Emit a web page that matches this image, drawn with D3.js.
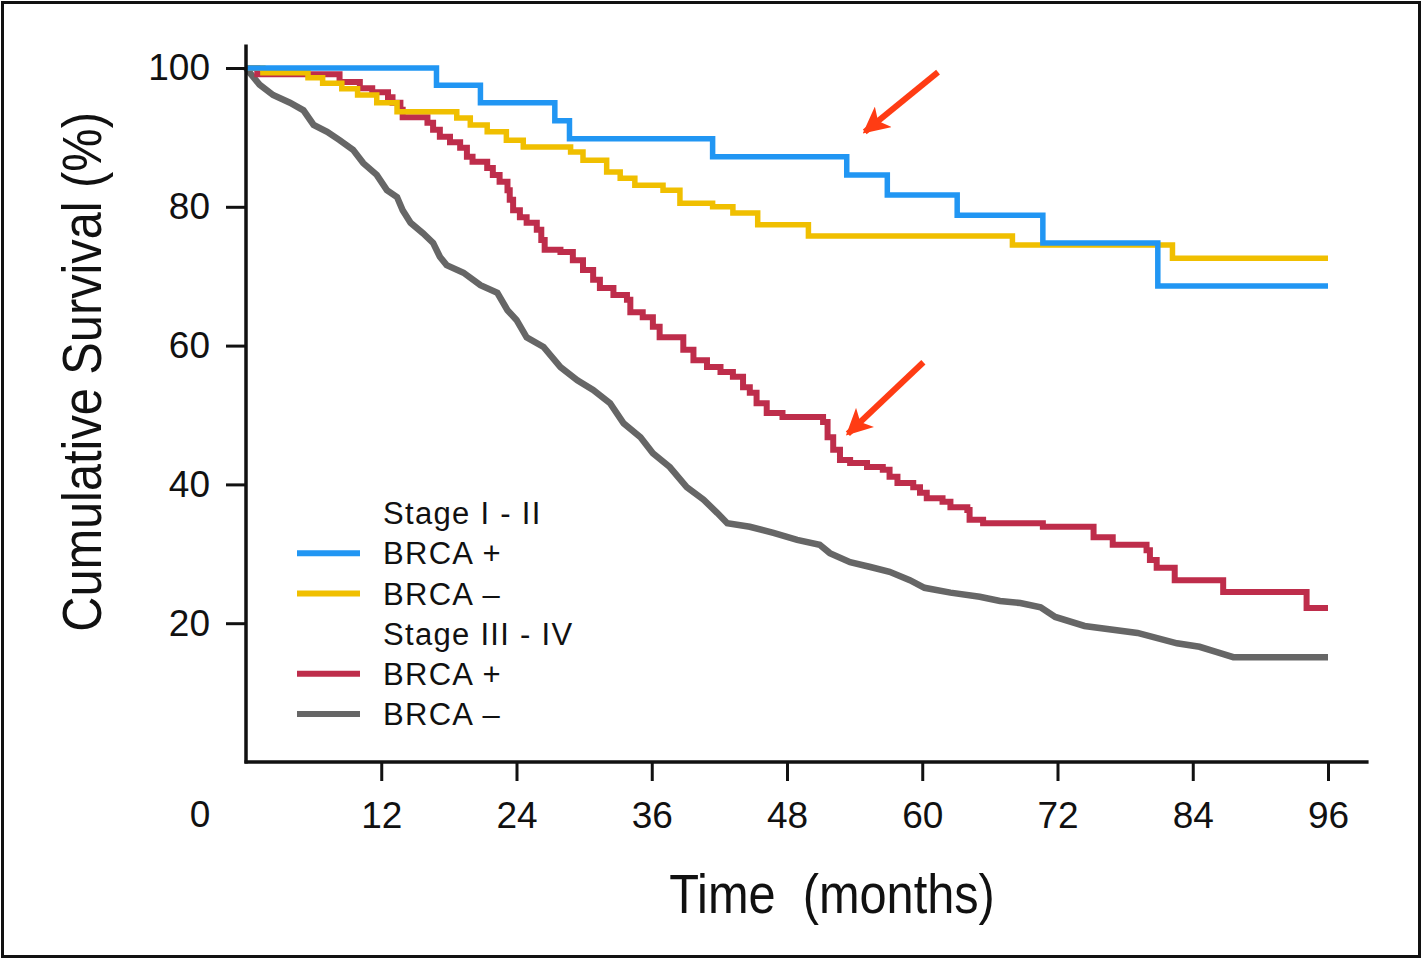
<!DOCTYPE html>
<html>
<head>
<meta charset="utf-8">
<script src="https://cdn.jsdelivr.net/npm/d3@7/dist/d3.min.js"></script>
<style>
    body { margin: 0; background: #fff; }
    svg { display: block; }
    .tick text { fill: #111; }
</style>
</head>
<body>
<div id="km-chart"></div>
<script>
// Stage I - II, BRCA +
var earlyPosTime = [0, 16.9, 20.8, 27.4, 28.7, 41.4, 53.3, 56.9, 63.1, 70.7, 80.9, 96];
var earlyPosSurv = [100, 97.5, 95.0, 92.4, 89.8, 87.2, 84.6, 81.7, 78.8, 74.8, 68.6, 68.6];

// Stage I - II, BRCA -
var earlyNegTime = [0, 1.5, 5.5, 6.8, 8.5, 9.9, 11.6, 13.4, 18.7, 19.9, 21.4, 23.1, 24.6, 28.8, 29.9, 32.0,
    33.2, 34.5, 37.0, 38.5, 41.4, 43.2, 45.4, 49.9, 68.0, 82.2, 96];
var earlyNegSurv = [100, 99.3, 98.6, 97.8, 97.0, 96.1, 95.0, 93.7, 92.8, 91.8, 90.8, 89.6, 88.6, 87.9, 86.7, 85.0,
    84.1, 83.1, 82.4, 80.5, 80.0, 79.1, 77.4, 75.8, 74.5, 72.6, 72.6];

// Stage III - IV, BRCA +
var latePosTime = [0, 1.0, 8.3, 10.1, 11.2, 12.6, 13.0, 13.7, 13.9, 16.1, 16.6, 17.2, 18.1, 19.0, 19.6, 20.1,
    21.4, 21.9, 22.5, 23.2, 23.4, 23.7, 24.3, 24.9, 25.8, 26.2, 26.5, 27.9, 29.0, 29.9, 30.8, 31.4, 32.6,
    33.8, 34.1, 35.2, 36.1, 36.7, 38.8, 39.7, 40.9, 42.1, 43.2, 44.1, 44.7, 45.3, 46.2, 47.6, 51.2, 51.6,
    52.1, 52.7, 53.6, 55.1, 56.5, 57.1, 57.8, 59.2, 59.8, 60.4, 61.8, 62.5, 64.0, 64.2, 65.4, 70.7, 75.2,
    76.9, 79.9, 80.2, 80.8, 82.4, 86.7, 94.1, 96];
var latePosSurv = [100, 99.1, 98.0, 97.1, 96.5, 95.8, 95.0, 94.0, 92.9, 92.1, 91.1, 90.1, 89.3, 88.5, 87.2, 86.5,
    85.6, 84.6, 83.6, 82.4, 81.0, 79.5, 78.5, 77.7, 76.7, 75.2, 73.8, 73.5, 72.3, 70.9, 69.5, 68.3, 67.3,
    66.6, 64.8, 64.1, 62.7, 61.2, 59.4, 57.9, 56.9, 56.2, 55.5, 54.0, 53.2, 51.7, 50.3, 49.7, 49.0, 46.8,
    45.0, 43.5, 43.1, 42.5, 42.1, 41.1, 40.2, 39.6, 38.8, 38.0, 37.5, 36.7, 36.3, 34.9, 34.4, 33.9, 32.4,
    31.3, 30.5, 29.1, 28.0, 26.2, 24.5, 22.2, 22.2];

// Stage III - IV, BRCA - (dense tiny steps)
var lateNegTime = [0, 0.35, 1.2, 2.4, 3.9, 5.1, 6.0, 7.2, 8.3, 9.5, 10.4, 11.6, 12.5, 13.4, 13.9, 14.6, 15.7,
    16.6, 17.2, 17.8, 19.3, 20.8, 22.3, 23.2, 24.0, 24.9, 26.4, 27.9, 29.4, 30.8, 32.3, 33.5, 35.0, 36.1,
    37.6, 39.1, 40.6, 41.8, 42.7, 44.7, 46.8, 48.9, 50.9, 51.8, 53.6, 55.4, 57.1, 58.9, 60.2, 62.5, 65.1,
    66.9, 68.7, 70.5, 71.8, 74.4, 79.1, 82.6, 84.6, 86.0, 87.6, 96];
var lateNegSurv = [100, 99.3, 97.6, 96.1, 95.0, 93.9, 91.8, 90.8, 89.6, 88.2, 86.3, 84.6, 82.4, 81.4, 79.5, 77.7,
    76.2, 74.8, 72.8, 71.6, 70.5, 68.7, 67.6, 65.1, 63.7, 61.2, 59.8, 56.9, 55.0, 53.6, 51.7, 48.8, 46.8,
    44.5, 42.5, 39.6, 37.8, 35.9, 34.4, 33.9, 33.0, 32.0, 31.3, 30.1, 28.8, 28.1, 27.4, 26.2, 25.1, 24.4,
    23.8, 23.2, 22.9, 22.3, 20.9, 19.6, 18.6, 17.1, 16.6, 15.9, 15.1, 15.1];

var xTickValues = [12, 24, 36, 48, 60, 72, 84, 96];
var yTickValues = [20, 40, 60, 80, 100];

var legendLabels = ["Stage I - II", "BRCA +", "BRCA \u2013", "Stage III - IV", "BRCA +", "BRCA \u2013"];

// arrows pointing at the curves, as [time, survival] tail -> head
var arrowTails = [[61.4, 99.4], [60.1, 57.6]];
var arrowHeads = [[54.9, 90.8], [53.4, 47.3]];


var width = 1422, height = 959;
var margin = {top: 68, right: 94, bottom: 197, left: 246};

var svg = d3.select("#km-chart")
    .append("svg")
    .attr("width", width)
    .attr("height", height);

svg.append("rect")
    .attr("x", 2.5)
    .attr("y", 2.5)
    .attr("width", width - 5)
    .attr("height", height - 5)
    .attr("fill", "#fff")
    .attr("stroke", "#111")
    .attr("stroke-width", 3);

var x = d3.scaleLinear()
    .domain([0, 96])
    .range([margin.left, width - margin.right]);

var y = d3.scaleLinear()
    .domain([0, 100])
    .range([height - margin.bottom, margin.top]);

var stepLine = d3.line()
    .x(function (d) { return x(d[0]); })
    .y(function (d) { return y(d[1]); })
    .curve(d3.curveStepAfter);

// the gray curve has so many tiny steps it reads as a jagged diagonal
var jaggedLine = d3.line()
    .x(function (d) { return x(d[0]); })
    .y(function (d) { return y(d[1]); })
    .curve(d3.curveLinear);

var series = [
    {time: lateNegTime, surv: lateNegSurv, color: "#666666", width: 6.5, line: jaggedLine},
    {time: latePosTime, surv: latePosSurv, color: "#be2d4b", width: 6, line: stepLine},
    {time: earlyNegTime, surv: earlyNegSurv, color: "#f0bf00", width: 5.5, line: stepLine},
    {time: earlyPosTime, surv: earlyPosSurv, color: "#2196f3", width: 5.5, line: stepLine}
];

series.forEach(function (s) {
    var pts = s.time.map(function (t, i) { return [t, s.surv[i]]; });
    svg.append("path")
        .datum(pts)
        .attr("fill", "none")
        .attr("stroke", s.color)
        .attr("stroke-width", s.width)
        .attr("stroke-linejoin", "miter")
        .attr("d", s.line);
});

// X axis
var xAxis = svg.append("g")
    .attr("transform", "translate(0," + y(0) + ")")
    .call(d3.axisBottom(x)
        .tickValues(xTickValues)
        .tickSize(19)
        .tickPadding(21));
xAxis.select(".domain").remove();
xAxis.selectAll(".tick line").attr("stroke", "#111").attr("stroke-width", 3);
xAxis.selectAll(".tick text")
    .attr("font-family", "Liberation Sans, Arial, sans-serif")
    .attr("font-size", 37);

// Y axis
var yAxis = svg.append("g")
    .attr("transform", "translate(" + x(0) + ",0)")
    .call(d3.axisLeft(y)
        .tickValues(yTickValues)
        .tickSize(20)
        .tickPadding(16));
yAxis.select(".domain").remove();
yAxis.selectAll(".tick line").attr("stroke", "#111").attr("stroke-width", 3);
yAxis.selectAll(".tick text")
    .attr("font-family", "Liberation Sans, Arial, sans-serif")
    .attr("font-size", 37);

// shared origin label
svg.append("text")
    .attr("x", x(0) - 46)
    .attr("y", y(0) + 65)
    .attr("text-anchor", "middle")
    .attr("font-family", "Liberation Sans, Arial, sans-serif")
    .attr("font-size", 37)
    .attr("fill", "#111")
    .text("0");

// axis lines
svg.append("line")
    .attr("x1", x(0)).attr("x2", x(0))
    .attr("y1", y(103.4)).attr("y2", y(0) + 1.5)
    .attr("stroke", "#111").attr("stroke-width", 3.5);
svg.append("line")
    .attr("x1", x(0) - 1.5).attr("x2", x(99.6))
    .attr("y1", y(0)).attr("y2", y(0))
    .attr("stroke", "#111").attr("stroke-width", 3.5);

// axis titles, condensed by a horizontal squeeze
svg.append("text")
    .attr("transform", "translate(" + (x(48) + 45) + "," + (y(0) + 151) + ") scale(0.87,1)")
    .attr("text-anchor", "middle")
    .attr("font-family", "Liberation Sans, Arial, sans-serif")
    .attr("font-size", 56)
    .attr("fill", "#111")
    .style("white-space", "pre")
    .text("Time  (months)");

svg.append("text")
    .attr("transform", "translate(101," + y(56.2) + ") rotate(-90) scale(0.87,1)")
    .attr("text-anchor", "middle")
    .attr("font-family", "Liberation Sans, Arial, sans-serif")
    .attr("font-size", 56)
    .attr("fill", "#111")
    .text("Cumulative Survival (%)");

// legend
var legendColors = [null, "#2196f3", "#f0bf00", null, "#be2d4b", "#666666"];
var legend = svg.append("g")
    .attr("transform", "translate(297,513)");

legendLabels.forEach(function (label, i) {
    var row = legend.append("g")
        .attr("transform", "translate(0," + (i * 40.2) + ")");
    if (legendColors[i]) {
        row.append("line")
            .attr("x1", 0).attr("x2", 63)
            .attr("y1", 0).attr("y2", 0)
            .attr("stroke", legendColors[i])
            .attr("stroke-width", 6);
    }
    row.append("text")
        .attr("x", 86)
        .attr("y", 0)
        .attr("dy", "0.36em")
        .attr("font-family", "Liberation Sans, Arial, sans-serif")
        .attr("font-size", 31)
        .attr("letter-spacing", 1.3)
        .attr("fill", "#111")
        .text(label);
});

// arrows
svg.append("defs").append("marker")
    .attr("id", "arrowhead")
    .attr("viewBox", "0 0 10 10")
    .attr("refX", 9)
    .attr("refY", 5)
    .attr("markerWidth", 4.4)
    .attr("markerHeight", 4.4)
    .attr("markerUnits", "strokeWidth")
    .attr("orient", "auto")
    .append("path")
    .attr("d", "M0,0 L10,5 L0,10 L2.5,5 Z")
    .attr("fill", "#ff3c14");

arrowTails.forEach(function (tail, i) {
    var head = arrowHeads[i];
    svg.append("line")
        .attr("x1", x(tail[0])).attr("y1", y(tail[1]))
        .attr("x2", x(head[0])).attr("y2", y(head[1]))
        .attr("stroke", "#ff3c14")
        .attr("stroke-width", 6)
        .attr("marker-end", "url(#arrowhead)");
});
</script>
</body>
</html>
